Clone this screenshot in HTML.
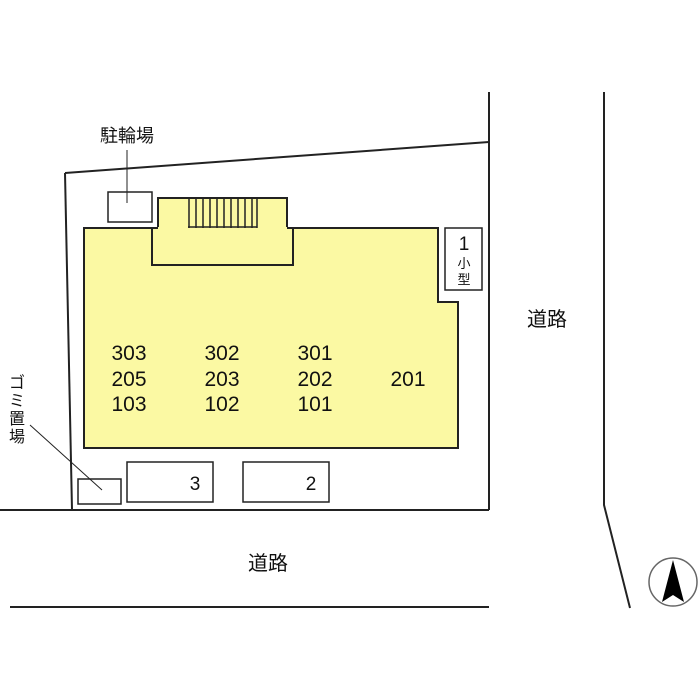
<!DOCTYPE html>
<html><head><meta charset="utf-8"><style>
body{margin:0;background:#fff;}
svg{display:block}
text{font-family:"Liberation Sans","Noto Sans CJK JP",sans-serif;fill:#111}
</style></head><body>
<svg width="700" height="700" viewBox="0 0 700 700" xmlns="http://www.w3.org/2000/svg">
<g stroke="#222" stroke-width="2" fill="none">
<line x1="65" y1="173" x2="489" y2="142"/>
<line x1="65" y1="173" x2="72" y2="510"/>
<line x1="489" y1="92" x2="489" y2="510"/>
<line x1="0" y1="510" x2="489" y2="510"/>
<line x1="10" y1="607" x2="489" y2="607"/>
<polyline points="604,92 604,505 630,608"/>
</g>
<polygon points="84,228 152,228 152,265 293,265 293,228 438,228 438,302 458,302 458,448 84,448" fill="#fbf9a3" stroke="#222" stroke-width="2"/>
<polygon points="158,228 158,198 287,198 287,228 293,228 293,265 152,265 152,228" fill="#fbf9a3" stroke="#222" stroke-width="2"/>
<line x1="158" y1="228" x2="287" y2="228" stroke="#fbf9a3" stroke-width="2"/>
<g stroke="#222" stroke-width="1.5">
<line x1="189" y1="198" x2="189" y2="228"/><line x1="196" y1="198" x2="196" y2="228"/><line x1="203" y1="198" x2="203" y2="228"/><line x1="210" y1="198" x2="210" y2="228"/><line x1="217" y1="198" x2="217" y2="228"/><line x1="224" y1="198" x2="224" y2="228"/><line x1="231" y1="198" x2="231" y2="228"/><line x1="238" y1="198" x2="238" y2="228"/><line x1="245" y1="198" x2="245" y2="228"/><line x1="252" y1="198" x2="252" y2="228"/><line x1="257" y1="198" x2="257" y2="228"/>
<line x1="188" y1="227" x2="257" y2="227"/>
</g>
<g stroke="#222" stroke-width="1.5" fill="#fff">
<rect x="108" y="192" width="44" height="30"/>
<rect x="445" y="228" width="37" height="62"/>
<rect x="78" y="479" width="43" height="25"/>
<rect x="127" y="462" width="86" height="40"/>
<rect x="243" y="462" width="86" height="40"/>
</g>
<g stroke="#222" stroke-width="1">
<line x1="127" y1="150" x2="127" y2="203"/>
<line x1="30" y1="425" x2="102" y2="490"/>
</g>
<g font-size="21" text-anchor="middle">
<text x="129" y="360">303</text><text x="129" y="386">205</text><text x="129" y="411">103</text>
<text x="222" y="360">302</text><text x="222" y="386">203</text><text x="222" y="411">102</text>
<text x="315" y="360">301</text><text x="315" y="386">202</text><text x="315" y="411">101</text>
<text x="408" y="386">201</text>
<text x="195" y="490" font-size="19">3</text>
<text x="311" y="490" font-size="19">2</text>
<text x="464" y="250" font-size="19">1</text>
</g>
<text x="464" y="268" font-size="13" text-anchor="middle">小</text>
<text x="464" y="284" font-size="13" text-anchor="middle">型</text>
<text x="127" y="142" font-size="18" text-anchor="middle">駐輪場</text>
<text x="547" y="326" font-size="20" text-anchor="middle">道路</text>
<text x="268" y="570" font-size="20" text-anchor="middle">道路</text>
<g font-size="16" text-anchor="middle">
<text x="17" y="388">ゴ</text><text x="17" y="406">ミ</text><text x="17" y="424">置</text><text x="17" y="442">場</text>
</g>
<circle cx="673" cy="582" r="24" fill="#fff" stroke="#666" stroke-width="1.5"/>
<polygon points="673,560 662,602 673,595 684,602" fill="#000"/>
</svg>
</body></html>
